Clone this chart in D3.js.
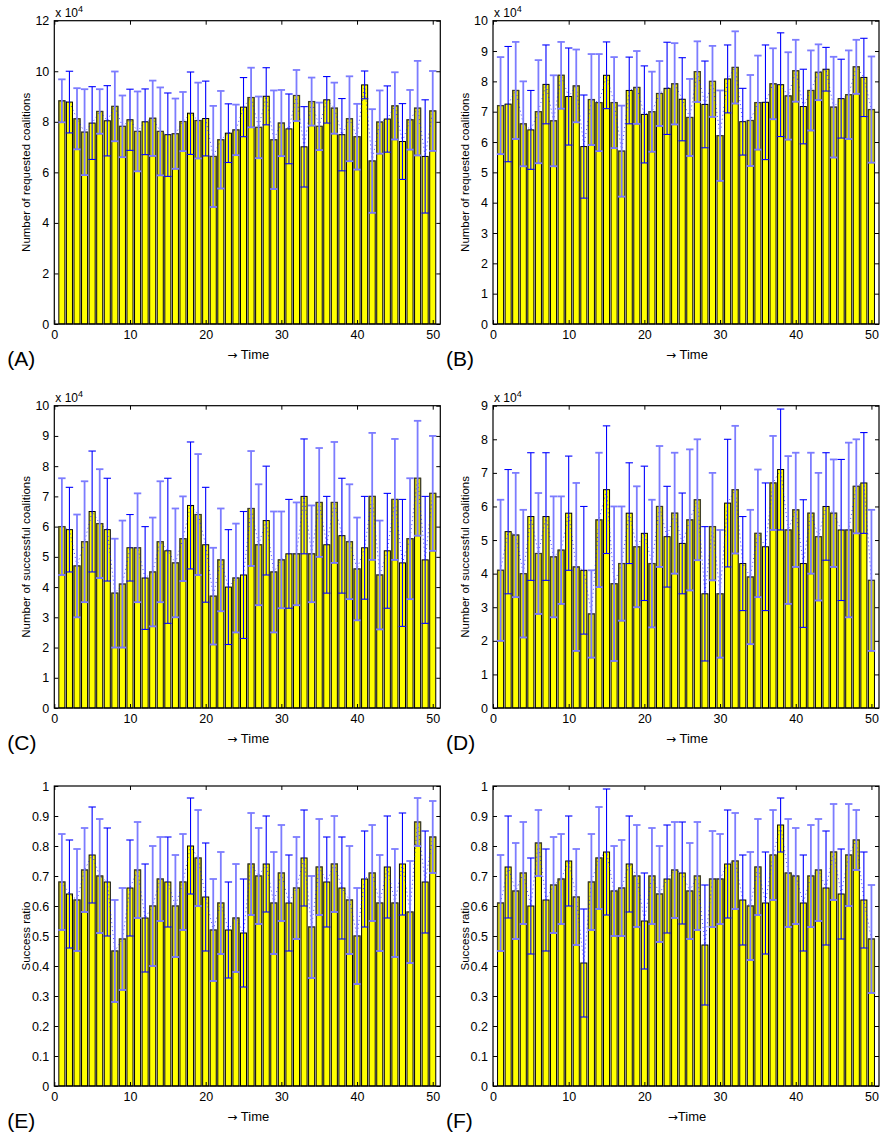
<!DOCTYPE html>
<html>
<head>
<meta charset="utf-8">
<script src="https://cdn.jsdelivr.net/npm/d3@7"></script>
<style>
body { margin: 0; background: #fff; }
svg text { font-family: "Liberation Sans", Arial, sans-serif; fill: #000; }
</style>
</head>
<body>
<svg id="fig" width="883" height="1145"></svg>
<script>
// time steps 1..50
var timeSteps = d3.range(1, 51);

// (A) requested coalitions, x 10^4
var reqMeanA = [8.83,8.78,8.12,7.59,7.95,8.41,8.04,8.61,7.82,8.08, 7.62,8.00,8.14,7.62,7.49,7.53,8.01,8.34,8.05,8.13,
                6.63,7.29,7.55,7.68,8.58,8.96,7.78,9.01,7.29,7.95, 7.72,9.04,7.01,8.80,7.82,8.87,8.54,7.49,8.12,7.41,
                9.46,6.45,7.99,8.11,8.63,7.22,8.08,8.54,6.63,8.43];
var reqErrA  = [0.85,1.22,1.21,1.70,1.44,0.88,1.39,1.38,1.22,1.21, 1.58,1.30,1.49,1.74,1.65,1.39,1.17,1.63,1.50,1.48,
                2.00,1.93,1.16,1.00,1.17,1.18,1.22,1.13,1.95,1.31, 1.38,1.01,1.59,0.95,0.94,0.92,1.01,1.43,1.68,1.30,
                0.55,2.05,1.25,1.31,1.33,1.50,1.18,1.87,2.24,1.58];

// (B) requested coalitions, x 10^4
var reqMeanB = [7.20,7.25,7.70,6.60,6.40,7.00,7.90,6.70,8.20,7.50, 7.85,5.85,7.40,7.30,8.20,7.30,5.70,7.70,7.80,6.91,
                7.00,7.60,7.77,7.92,7.41,6.81,8.32,7.24,8.00,6.21, 8.08,8.46,6.67,6.71,7.30,7.31,7.92,7.89,7.52,8.35,
                7.17,7.70,8.30,8.40,7.15,7.43,7.56,8.48,8.13,7.07];
var reqErrB  = [1.60,1.90,1.60,1.40,1.30,1.70,1.30,1.50,1.10,1.60, 1.20,1.70,1.50,1.60,1.10,1.50,1.50,1.10,1.20,1.60,
                1.32,1.07,1.52,1.34,1.37,1.27,1.00,1.43,1.17,1.49, 1.12,1.19,1.10,1.50,1.55,1.89,1.17,1.71,1.44,1.02,
                1.23,1.32,0.92,0.72,1.66,1.30,1.46,0.89,1.29,1.75];

// (C) successful coalitions, x 10^4
var succMeanC = [6.0,5.9,4.7,5.5,6.5,6.1,5.9,3.8,4.1,5.3, 5.3,4.3,4.5,5.5,5.2,4.8,5.6,6.7,6.4,5.4,
                 3.7,4.9,4.0,4.3,4.4,6.6,5.4,6.2,4.5,4.9, 5.1,5.1,7.0,5.1,6.8,5.4,6.8,5.7,5.5,4.6,
                 5.3,7.0,4.4,5.2,6.9,4.8,5.6,7.6,4.9,7.1];
var succErrC  = [1.6,1.4,1.7,2.0,2.0,1.8,1.7,1.8,2.1,1.1, 1.8,1.7,1.8,2.0,2.4,1.8,1.4,2.1,2.0,1.9,
                 1.6,1.7,1.9,1.8,2.1,1.9,2.0,1.8,2.0,1.6, 1.8,1.7,1.9,1.6,1.8,1.6,2.0,1.9,1.9,1.7,
                 1.7,2.1,1.8,1.9,2.0,2.1,2.0,1.9,2.1,1.9];

// (D) successful coalitions, x 10^4
var succMeanD = [4.1,5.25,5.15,4.0,5.7,4.6,5.7,4.5,4.7,5.8, 4.2,4.1,2.8,5.6,6.5,3.7,4.3,5.8,4.8,5.2,
                 4.3,6.0,5.1,5.8,4.9,5.6,6.2,3.4,5.4,3.4, 6.1,6.5,4.3,3.9,5.2,4.8,6.7,7.1,5.3,5.9,
                 4.3,5.8,5.1,6.0,5.8,5.3,5.3,6.6,6.7,3.8];
var succErrD  = [2.1,1.85,1.85,1.9,1.9,1.8,1.9,1.8,1.6,1.7, 2.5,1.9,1.3,2.0,1.9,2.3,1.7,1.5,1.8,2.0,
                 1.9,1.8,1.5,1.8,1.5,2.1,1.8,2.0,1.6,1.9, 1.9,1.9,1.4,2.0,1.9,1.9,1.4,1.8,2.2,1.7,
                 1.9,1.8,1.9,1.6,1.6,2.1,2.6,1.4,1.5,2.1];

// (E) success ratio
var ratioMeanE = [0.68,0.64,0.62,0.72,0.77,0.70,0.68,0.45,0.49,0.66, 0.72,0.56,0.60,0.69,0.68,0.60,0.68,0.80,0.76,0.63,
                  0.52,0.61,0.52,0.56,0.51,0.74,0.70,0.74,0.61,0.71, 0.61,0.66,0.76,0.53,0.73,0.68,0.74,0.66,0.62,0.50,
                  0.69,0.71,0.61,0.73,0.61,0.74,0.58,0.88,0.68,0.83];
var ratioErrE  = [0.16,0.18,0.17,0.14,0.16,0.19,0.18,0.17,0.17,0.16, 0.16,0.18,0.20,0.14,0.15,0.17,0.16,0.16,0.16,0.18,
                  0.17,0.17,0.16,0.18,0.18,0.17,0.16,0.16,0.17,0.16, 0.16,0.17,0.16,0.17,0.16,0.15,0.16,0.17,0.18,0.16,
                  0.16,0.16,0.16,0.17,0.18,0.17,0.17,0.08,0.17,0.12];

// (F) success ratio
var ratioMeanF = [0.61,0.73,0.65,0.71,0.60,0.81,0.62,0.67,0.69,0.75, 0.63,0.41,0.68,0.76,0.78,0.65,0.66,0.74,0.70,0.55,
                  0.70,0.64,0.69,0.72,0.71,0.65,0.70,0.47,0.69,0.69, 0.74,0.75,0.62,0.60,0.73,0.61,0.77,0.87,0.71,0.70,
                  0.61,0.70,0.72,0.66,0.78,0.64,0.77,0.82,0.62,0.49];
var ratioErrF  = [0.16,0.17,0.16,0.17,0.16,0.11,0.17,0.16,0.15,0.15, 0.16,0.18,0.16,0.17,0.21,0.15,0.16,0.16,0.17,0.16,
                  0.16,0.16,0.18,0.16,0.17,0.16,0.18,0.20,0.16,0.15, 0.18,0.16,0.15,0.18,0.16,0.17,0.15,0.09,0.18,0.16,
                  0.16,0.17,0.17,0.19,0.16,0.15,0.17,0.10,0.16,0.18];

var xTicks = [0, 10, 20, 30, 40, 50];
var yTicksA = [0, 2, 4, 6, 8, 10, 12];
var yTicksB = [0, 1, 2, 3, 4, 5, 6, 7, 8, 9, 10];
var yTicksD = [0, 1, 2, 3, 4, 5, 6, 7, 8, 9];
var yTicksRatio = [0, 0.1, 0.2, 0.3, 0.4, 0.5, 0.6, 0.7, 0.8, 0.9, 1];

var panels = [
  {tag: "(A)", mean: reqMeanA, err: reqErrA, yMax: 12, ticks: yTicksA, exp: true, ylabel: "Number of requested coalitions", gap: " ", col: 0, row: 0},
  {tag: "(B)", mean: reqMeanB, err: reqErrB, yMax: 10, ticks: yTicksB, exp: true, ylabel: "Number of requested coalitions", gap: " ", col: 1, row: 0},
  {tag: "(C)", mean: succMeanC, err: succErrC, yMax: 10, ticks: yTicksB, exp: true, ylabel: "Number of successful coalitions", gap: " ", col: 0, row: 1},
  {tag: "(D)", mean: succMeanD, err: succErrD, yMax: 9, ticks: yTicksD, exp: true, ylabel: "Number of successful coalitions", gap: " ", col: 1, row: 1},
  {tag: "(E)", mean: ratioMeanE, err: ratioErrE, yMax: 1, ticks: yTicksRatio, exp: false, ylabel: "Success ratio", gap: " ", col: 0, row: 2},
  {tag: "(F)", mean: ratioMeanF, err: ratioErrF, yMax: 1, ticks: yTicksRatio, exp: false, ylabel: "Success ratio", gap: "", col: 1, row: 2}
];

var colX = [54.3, 493], colW = 386;
var rowY = [20.7, 405.7, 786], rowH = [303.3, 302.3, 300];

var svg = d3.select("#fig");

// the rasterised original shows some error bars washed out, roughly 2 of every 3
function isFaint(t) {
  return Math.floor(t / 2.6 + 0.42) === Math.floor((t - 1) / 2.6 + 0.42);
}

panels.forEach(function (p) {
  var x0 = colX[p.col], y0 = rowY[p.row], h = rowH[p.row];
  var g = svg.append("g").attr("transform", "translate(" + x0 + "," + y0 + ")");

  var x = d3.scaleLinear().domain([0, 51]).range([0, colW]);
  var y = d3.scaleLinear().domain([0, p.yMax]).range([h, 0]);

  var rows = timeSteps.map(function (t, i) { return {t: t, v: p.mean[i], e: p.err[i]}; });

  // bars
  g.selectAll(".bar").data(rows).enter().append("rect")
    .attr("class", "bar")
    .attr("x", function (d) { return x(d.t - 0.4); })
    .attr("width", function (d) { return x(d.t + 0.4) - x(d.t - 0.4); })
    .attr("y", function (d) { return y(d.v); })
    .attr("height", function (d) { return y(0) - y(d.v); })
    .attr("fill", "#ffff00")
    .attr("stroke", "#000")
    .attr("stroke-width", 1);

  // dull band between mean-err and mean on the washed out ones
  g.selectAll(".shade").data(rows.filter(function (d) { return isFaint(d.t); })).enter().append("rect")
    .attr("class", "shade")
    .attr("x", function (d) { return x(d.t - 0.4); })
    .attr("width", function (d) { return x(d.t + 0.4) - x(d.t - 0.4); })
    .attr("y", function (d) { return y(d.v); })
    .attr("height", function (d) { return y(Math.max(d.v - d.e, 0)) - y(d.v); })
    .attr("fill", "#8c8400")
    .attr("fill-opacity", 0.28)
    .attr("stroke", "#4a4a30")
    .attr("stroke-opacity", 0.75)
    .attr("stroke-width", 1.3);

  // dotted line through the means
  g.append("path")
    .datum(rows)
    .attr("d", d3.line().x(function (d) { return x(d.t); }).y(function (d) { return y(d.v); }))
    .attr("fill", "none")
    .attr("stroke", "#0000ff")
    .attr("stroke-opacity", 0.7)
    .attr("stroke-width", 1)
    .attr("stroke-dasharray", "1,3");

  // error bars
  var eb = g.selectAll(".eb").data(rows).enter().append("g")
    .attr("class", "eb")
    .attr("stroke", function (d) { return isFaint(d.t) ? "#7c7cff" : "#0000ff"; })
    .attr("stroke-width", function (d) { return isFaint(d.t) ? 1.8 : 1.1; });
  eb.append("line")
    .attr("x1", function (d) { return x(d.t); })
    .attr("x2", function (d) { return x(d.t); })
    .attr("y1", function (d) { return y(Math.max(d.v - d.e, 0)); })
    .attr("y2", function (d) { return y(d.v + d.e); });
  eb.append("line")
    .attr("x1", function (d) { return x(d.t - 0.49); })
    .attr("x2", function (d) { return x(d.t + 0.49); })
    .attr("y1", function (d) { return y(d.v + d.e); })
    .attr("y2", function (d) { return y(d.v + d.e); });
  eb.filter(function (d) { return d.v - d.e > 0; }).append("line")
    .attr("x1", function (d) { return x(d.t - 0.49); })
    .attr("x2", function (d) { return x(d.t + 0.49); })
    .attr("y1", function (d) { return y(d.v - d.e); })
    .attr("y2", function (d) { return y(d.v - d.e); });

  // axes, ticks pointing inward on all four sides
  var fmt = p.exp ? d3.format("d") : d3.format(".1~f");
  var ax = g.append("g").attr("class", "axes");
  ax.append("g")
    .call(d3.axisLeft(y).tickValues(p.ticks).tickFormat(fmt).tickSizeInner(-4).tickSizeOuter(0).tickPadding(5));
  ax.append("g").attr("transform", "translate(0," + h + ")")
    .call(d3.axisBottom(x).tickValues(xTicks).tickFormat(d3.format("d")).tickSizeInner(-4).tickSizeOuter(0).tickPadding(6));
  ax.append("g")
    .call(d3.axisTop(x).tickValues(xTicks).tickFormat("").tickSizeInner(-4).tickSizeOuter(0));
  ax.append("g").attr("transform", "translate(" + colW + ",0)")
    .call(d3.axisRight(y).tickValues(p.ticks).tickFormat("").tickSizeInner(-4).tickSizeOuter(0));
  ax.selectAll("path.domain").remove();
  ax.selectAll("line").attr("stroke", "#000");
  ax.selectAll("text").attr("font-size", 12.5).attr("fill", "#000");
  ax.append("rect")
    .attr("width", colW).attr("height", h)
    .attr("fill", "none").attr("stroke", "#000").attr("stroke-width", 1.2);

  // x 10^4 multiplier
  if (p.exp) {
    var m = g.append("text").attr("x", 1).attr("y", -4).attr("font-size", 12);
    m.append("tspan").text("x 10");
    m.append("tspan").attr("font-size", 9).attr("dy", -5).text("4");
  }

  g.append("text")
    .attr("transform", "translate(-24," + (h / 2) + ") rotate(-90)")
    .attr("text-anchor", "middle")
    .attr("font-size", 11.5)
    .text(p.ylabel);

  var xl = g.append("text")
    .attr("x", colW / 2 + 1).attr("y", h + 35)
    .attr("text-anchor", "middle")
    .attr("font-size", 13);
  xl.append("tspan").attr("font-family", "DejaVu Sans").attr("font-size", 12).text("\u2192");
  xl.append("tspan").text(p.gap + "Time");

  g.append("text")
    .attr("x", -47).attr("y", h + 42)
    .attr("font-size", 21)
    .text(p.tag);
});
</script>
</body>
</html>
